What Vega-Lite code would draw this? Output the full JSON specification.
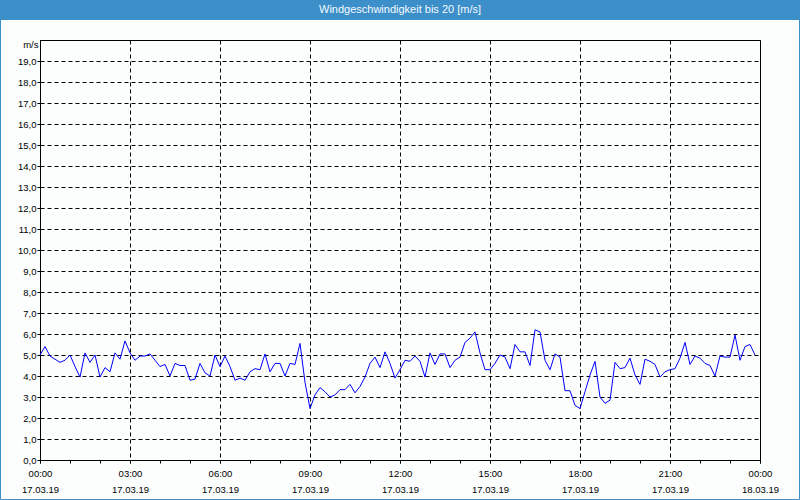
{
  "$schema": "https://vega.github.io/schema/vega-lite/v6.json",
  "autosize": {"type": "none"},
  "width": 720,
  "height": 420,
  "padding": {"left": 40, "top": 40, "right": 40, "bottom": 40},
  "background": "#fcfdfd",
  "config": {
    "font": "Liberation Sans",
    "locale": {"number": {"decimal": ",", "thousands": ".", "grouping": [3], "currency": ["", " €"]}},
    "view": {"stroke": "#000", "strokeWidth": 1},
    "axis": {"labelFont": "Liberation Sans", "titleFont": "Liberation Sans", "labelColor": "#000", "titleColor": "#000"}
  },
  "resolve": {"axis": {"x": "independent", "y": "independent"}},
  "layer": [
    {
      "data": {"values": [{"title": "Windgeschwindigkeit bis 20 [m/s]"}]},
      "mark": {"type": "rect", "color": "#3c8fc8", "clip": false},
      "encoding": {
        "x": {"datum": {"year": 2019, "month": 3, "date": 16, "hours": 21, "minutes": 20}, "type": "temporal", "axis": null},
        "x2": {"datum": {"year": 2019, "month": 3, "date": 18, "hours": 1, "minutes": 20}},
        "y": {"datum": 21.905, "type": "quantitative", "axis": null},
        "y2": {"datum": 20.952}
      }
    },
    {
      "data": {"values": [{"title": "Windgeschwindigkeit bis 20 [m/s]"}]},
      "mark": {"type": "rect", "fill": null, "stroke": "#3c8fc8", "strokeWidth": 1, "clip": false},
      "encoding": {
        "x": {
          "datum": {"year": 2019, "month": 3, "date": 16, "hours": 22, "minutes": 41}, "type": "temporal",
          "axis": {
            "orient": "bottom",
            "values": [
              {"year": 2019, "month": 3, "date": 17, "hours": 0}, {"year": 2019, "month": 3, "date": 17, "hours": 1}, {"year": 2019, "month": 3, "date": 17, "hours": 2},
              {"year": 2019, "month": 3, "date": 17, "hours": 3}, {"year": 2019, "month": 3, "date": 17, "hours": 4}, {"year": 2019, "month": 3, "date": 17, "hours": 5},
              {"year": 2019, "month": 3, "date": 17, "hours": 6}, {"year": 2019, "month": 3, "date": 17, "hours": 7}, {"year": 2019, "month": 3, "date": 17, "hours": 8},
              {"year": 2019, "month": 3, "date": 17, "hours": 9}, {"year": 2019, "month": 3, "date": 17, "hours": 10}, {"year": 2019, "month": 3, "date": 17, "hours": 11},
              {"year": 2019, "month": 3, "date": 17, "hours": 12}, {"year": 2019, "month": 3, "date": 17, "hours": 13}, {"year": 2019, "month": 3, "date": 17, "hours": 14},
              {"year": 2019, "month": 3, "date": 17, "hours": 15}, {"year": 2019, "month": 3, "date": 17, "hours": 16}, {"year": 2019, "month": 3, "date": 17, "hours": 17},
              {"year": 2019, "month": 3, "date": 17, "hours": 18}, {"year": 2019, "month": 3, "date": 17, "hours": 19}, {"year": 2019, "month": 3, "date": 17, "hours": 20},
              {"year": 2019, "month": 3, "date": 17, "hours": 21}, {"year": 2019, "month": 3, "date": 17, "hours": 22}, {"year": 2019, "month": 3, "date": 17, "hours": 23},
              {"year": 2019, "month": 3, "date": 18, "hours": 0}
            ],
            "title": null,
            "labels": false,
            "domain": false,
            "grid": false,
            "ticks": true,
            "tickSize": 3,
            "tickColor": "#000"
          }
        },
        "x2": {"datum": {"year": 2019, "month": 3, "date": 18, "hours": 1, "minutes": 19}},
        "y": {"datum": 21.881, "type": "quantitative", "axis": null},
        "y2": {"datum": -1.881}
      }
    },
    {
      "data": {"values": [{"title": "Windgeschwindigkeit bis 20 [m/s]"}]},
      "mark": {"type": "text", "color": "#f4faff", "fontSize": 11, "font": "Liberation Sans", "align": "center", "baseline": "middle", "clip": false},
      "encoding": {
        "x": {
          "datum": {"year": 2019, "month": 3, "date": 17, "hours": 12}, "type": "temporal",
          "axis": {
            "orient": "bottom",
            "offset": 16,
            "values": [
              {"year": 2019, "month": 3, "date": 17, "hours": 0},
              {"year": 2019, "month": 3, "date": 17, "hours": 3},
              {"year": 2019, "month": 3, "date": 17, "hours": 6},
              {"year": 2019, "month": 3, "date": 17, "hours": 9},
              {"year": 2019, "month": 3, "date": 17, "hours": 12},
              {"year": 2019, "month": 3, "date": 17, "hours": 15},
              {"year": 2019, "month": 3, "date": 17, "hours": 18},
              {"year": 2019, "month": 3, "date": 17, "hours": 21},
              {"year": 2019, "month": 3, "date": 18, "hours": 0}
            ],
            "format": "%d.%m.%y",
            "title": null,
            "domain": false,
            "grid": false,
            "tickSize": 3,
            "tickOpacity": 0,
            "labelFontSize": 9.5,
            "labelPadding": 5,
            "labelOverlap": false,
            "labelFlush": false,
            "labelBound": false
          }
        },
        "y": {"datum": 21.43, "type": "quantitative", "axis": null},
        "text": {"field": "title", "type": "nominal"}
      }
    },
    {
      "data": {"values": [
        {"t": "2019-03-17T00:00", "v": 5.0}, {"t": "2019-03-17T00:10", "v": 5.4}, {"t": "2019-03-17T00:20", "v": 4.95}, {"t": "2019-03-17T00:30", "v": 4.8}, {"t": "2019-03-17T00:40", "v": 4.65}, {"t": "2019-03-17T00:50", "v": 4.75},
        {"t": "2019-03-17T01:00", "v": 5.0}, {"t": "2019-03-17T01:10", "v": 4.45}, {"t": "2019-03-17T01:20", "v": 3.95}, {"t": "2019-03-17T01:30", "v": 5.1}, {"t": "2019-03-17T01:40", "v": 4.65}, {"t": "2019-03-17T01:50", "v": 5.0},
        {"t": "2019-03-17T02:00", "v": 3.95}, {"t": "2019-03-17T02:10", "v": 4.4}, {"t": "2019-03-17T02:20", "v": 4.2}, {"t": "2019-03-17T02:30", "v": 5.1}, {"t": "2019-03-17T02:40", "v": 4.8}, {"t": "2019-03-17T02:50", "v": 5.67},
        {"t": "2019-03-17T03:00", "v": 5.1}, {"t": "2019-03-17T03:10", "v": 4.75}, {"t": "2019-03-17T03:20", "v": 4.95}, {"t": "2019-03-17T03:30", "v": 4.95}, {"t": "2019-03-17T03:40", "v": 5.05}, {"t": "2019-03-17T03:50", "v": 4.75},
        {"t": "2019-03-17T04:00", "v": 4.45}, {"t": "2019-03-17T04:10", "v": 4.55}, {"t": "2019-03-17T04:20", "v": 4.0}, {"t": "2019-03-17T04:30", "v": 4.6}, {"t": "2019-03-17T04:40", "v": 4.5}, {"t": "2019-03-17T04:50", "v": 4.5},
        {"t": "2019-03-17T05:00", "v": 3.8}, {"t": "2019-03-17T05:10", "v": 3.85}, {"t": "2019-03-17T05:20", "v": 4.6}, {"t": "2019-03-17T05:30", "v": 4.15}, {"t": "2019-03-17T05:40", "v": 4.0}, {"t": "2019-03-17T05:50", "v": 5.0},
        {"t": "2019-03-17T06:00", "v": 4.45}, {"t": "2019-03-17T06:10", "v": 4.95}, {"t": "2019-03-17T06:20", "v": 4.45}, {"t": "2019-03-17T06:30", "v": 3.8}, {"t": "2019-03-17T06:40", "v": 3.9}, {"t": "2019-03-17T06:50", "v": 3.8},
        {"t": "2019-03-17T07:00", "v": 4.2}, {"t": "2019-03-17T07:10", "v": 4.35}, {"t": "2019-03-17T07:20", "v": 4.3}, {"t": "2019-03-17T07:30", "v": 5.05}, {"t": "2019-03-17T07:40", "v": 4.2}, {"t": "2019-03-17T07:50", "v": 4.6},
        {"t": "2019-03-17T08:00", "v": 4.6}, {"t": "2019-03-17T08:10", "v": 4.0}, {"t": "2019-03-17T08:20", "v": 4.6}, {"t": "2019-03-17T08:30", "v": 4.55}, {"t": "2019-03-17T08:40", "v": 5.55}, {"t": "2019-03-17T08:50", "v": 3.7},
        {"t": "2019-03-17T09:00", "v": 2.45}, {"t": "2019-03-17T09:10", "v": 3.1}, {"t": "2019-03-17T09:20", "v": 3.45}, {"t": "2019-03-17T09:30", "v": 3.25}, {"t": "2019-03-17T09:40", "v": 3.0}, {"t": "2019-03-17T09:50", "v": 3.1},
        {"t": "2019-03-17T10:00", "v": 3.35}, {"t": "2019-03-17T10:10", "v": 3.35}, {"t": "2019-03-17T10:20", "v": 3.6}, {"t": "2019-03-17T10:30", "v": 3.2}, {"t": "2019-03-17T10:40", "v": 3.5}, {"t": "2019-03-17T10:50", "v": 3.95},
        {"t": "2019-03-17T11:00", "v": 4.6}, {"t": "2019-03-17T11:10", "v": 4.9}, {"t": "2019-03-17T11:20", "v": 4.4}, {"t": "2019-03-17T11:30", "v": 5.15}, {"t": "2019-03-17T11:40", "v": 4.6}, {"t": "2019-03-17T11:50", "v": 3.9},
        {"t": "2019-03-17T12:00", "v": 4.3}, {"t": "2019-03-17T12:10", "v": 4.75}, {"t": "2019-03-17T12:20", "v": 4.7}, {"t": "2019-03-17T12:30", "v": 4.95}, {"t": "2019-03-17T12:40", "v": 4.7}, {"t": "2019-03-17T12:50", "v": 3.95},
        {"t": "2019-03-17T13:00", "v": 5.1}, {"t": "2019-03-17T13:10", "v": 4.55}, {"t": "2019-03-17T13:20", "v": 5.05}, {"t": "2019-03-17T13:30", "v": 5.05}, {"t": "2019-03-17T13:40", "v": 4.4}, {"t": "2019-03-17T13:50", "v": 4.75},
        {"t": "2019-03-17T14:00", "v": 4.9}, {"t": "2019-03-17T14:10", "v": 5.6}, {"t": "2019-03-17T14:20", "v": 5.8}, {"t": "2019-03-17T14:30", "v": 6.1}, {"t": "2019-03-17T14:40", "v": 5.1}, {"t": "2019-03-17T14:50", "v": 4.3},
        {"t": "2019-03-17T15:00", "v": 4.3}, {"t": "2019-03-17T15:10", "v": 4.6}, {"t": "2019-03-17T15:20", "v": 5.0}, {"t": "2019-03-17T15:30", "v": 4.9}, {"t": "2019-03-17T15:40", "v": 4.35}, {"t": "2019-03-17T15:50", "v": 5.5},
        {"t": "2019-03-17T16:00", "v": 5.15}, {"t": "2019-03-17T16:10", "v": 5.15}, {"t": "2019-03-17T16:20", "v": 4.5}, {"t": "2019-03-17T16:30", "v": 6.2}, {"t": "2019-03-17T16:40", "v": 6.1}, {"t": "2019-03-17T16:50", "v": 4.75},
        {"t": "2019-03-17T17:00", "v": 4.3}, {"t": "2019-03-17T17:10", "v": 5.05}, {"t": "2019-03-17T17:20", "v": 4.9}, {"t": "2019-03-17T17:30", "v": 3.3}, {"t": "2019-03-17T17:40", "v": 3.3}, {"t": "2019-03-17T17:50", "v": 2.6},
        {"t": "2019-03-17T18:00", "v": 2.45}, {"t": "2019-03-17T18:10", "v": 3.25}, {"t": "2019-03-17T18:20", "v": 4.05}, {"t": "2019-03-17T18:30", "v": 4.7}, {"t": "2019-03-17T18:40", "v": 3.0}, {"t": "2019-03-17T18:50", "v": 2.7},
        {"t": "2019-03-17T19:00", "v": 2.85}, {"t": "2019-03-17T19:10", "v": 4.65}, {"t": "2019-03-17T19:20", "v": 4.35}, {"t": "2019-03-17T19:30", "v": 4.4}, {"t": "2019-03-17T19:40", "v": 4.85}, {"t": "2019-03-17T19:50", "v": 4.05},
        {"t": "2019-03-17T20:00", "v": 3.6}, {"t": "2019-03-17T20:10", "v": 4.8}, {"t": "2019-03-17T20:20", "v": 4.7}, {"t": "2019-03-17T20:30", "v": 4.55}, {"t": "2019-03-17T20:40", "v": 3.95}, {"t": "2019-03-17T20:50", "v": 4.2},
        {"t": "2019-03-17T21:00", "v": 4.3}, {"t": "2019-03-17T21:10", "v": 4.35}, {"t": "2019-03-17T21:20", "v": 4.85}, {"t": "2019-03-17T21:30", "v": 5.6}, {"t": "2019-03-17T21:40", "v": 4.55}, {"t": "2019-03-17T21:50", "v": 4.95},
        {"t": "2019-03-17T22:00", "v": 4.85}, {"t": "2019-03-17T22:10", "v": 4.6}, {"t": "2019-03-17T22:20", "v": 4.5}, {"t": "2019-03-17T22:30", "v": 4.0}, {"t": "2019-03-17T22:40", "v": 4.95}, {"t": "2019-03-17T22:50", "v": 4.9},
        {"t": "2019-03-17T23:00", "v": 4.9}, {"t": "2019-03-17T23:10", "v": 5.95}, {"t": "2019-03-17T23:20", "v": 4.75}, {"t": "2019-03-17T23:30", "v": 5.4}, {"t": "2019-03-17T23:40", "v": 5.5}, {"t": "2019-03-17T23:50", "v": 5.0}
      ]},
      "mark": {"type": "line", "color": "#0000ff", "strokeWidth": 1, "interpolate": "linear"},
      "encoding": {
        "x": {
          "field": "t", "type": "temporal",
          "scale": {"domain": [{"year": 2019, "month": 3, "date": 17, "hours": 0}, {"year": 2019, "month": 3, "date": 18, "hours": 0}], "nice": false},
          "axis": {
            "orient": "bottom",
            "title": null,
            "values": [
              {"year": 2019, "month": 3, "date": 17, "hours": 0},
              {"year": 2019, "month": 3, "date": 17, "hours": 3},
              {"year": 2019, "month": 3, "date": 17, "hours": 6},
              {"year": 2019, "month": 3, "date": 17, "hours": 9},
              {"year": 2019, "month": 3, "date": 17, "hours": 12},
              {"year": 2019, "month": 3, "date": 17, "hours": 15},
              {"year": 2019, "month": 3, "date": 17, "hours": 18},
              {"year": 2019, "month": 3, "date": 17, "hours": 21},
              {"year": 2019, "month": 3, "date": 18, "hours": 0}
            ],
            "format": "%H:%M",
            "labelFontSize": 9.5,
            "labelPadding": 5,
            "labelOverlap": false,
            "labelFlush": false,
            "labelBound": false,
            "tickSize": 3,
            "tickColor": "#000",
            "domainColor": "#000",
            "grid": true,
            "gridColor": "#000",
            "gridDash": [4, 3]
          }
        },
        "y": {
          "field": "v", "type": "quantitative",
          "scale": {"domain": [0, 20], "nice": false},
          "axis": {
            "title": "m/s",
            "titleAngle": 0,
            "titleAlign": "right",
            "titleBaseline": "middle",
            "titleX": -2,
            "titleY": 4,
            "titleFontSize": 9.5,
            "titleFontWeight": "normal",
            "values": [0, 1, 2, 3, 4, 5, 6, 7, 8, 9, 10, 11, 12, 13, 14, 15, 16, 17, 18, 19],
            "format": ".1f",
            "labelOverlap": false,
            "labelFontSize": 9.5,
            "labelPadding": 1,
            "tickSize": 3,
            "tickColor": "#000",
            "domainColor": "#000",
            "grid": true,
            "gridColor": "#000",
            "gridDash": [4, 3]
          }
        }
      }
    }
  ]
}
